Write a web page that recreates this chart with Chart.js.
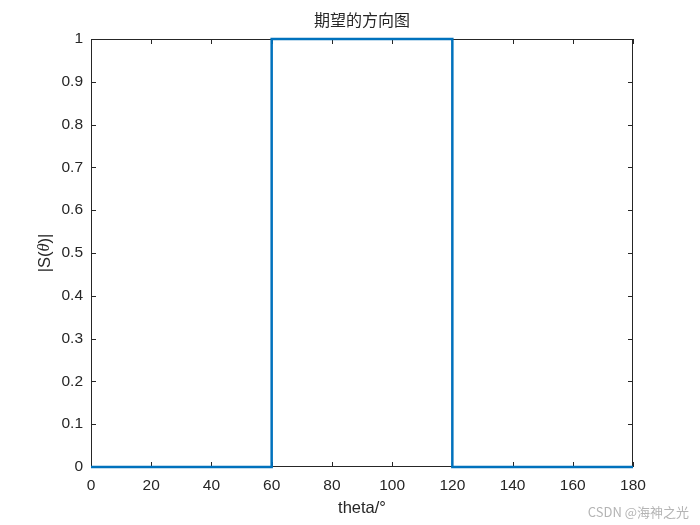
<!DOCTYPE html>
<html>
<head>
<meta charset="utf-8">
<script src="https://cdn.jsdelivr.net/npm/chart.js"></script>
<style>
  html, body { margin: 0; padding: 0; background: #fff; }
  canvas { display: block; }
</style>
</head>
<body>
<canvas id="chart" width="700" height="525"></canvas>
<script>
// 期望的方向图: a box pattern from 60° to 120°
const thetaValues = [0, 60, 60, 120, 120, 180];
const magValues = [0, 0, 1, 1, 0, 0];
const xTicks = [0, 20, 40, 60, 80, 100, 120, 140, 160, 180];
const yTicks = [0, 0.1, 0.2, 0.3, 0.4, 0.5, 0.6, 0.7, 0.8, 0.9, 1];

const tickFont = { family: 'Liberation Sans, Arial, sans-serif', size: 15.5 };
const textColor = '#262626';
const labelFont = '16.5px "Liberation Sans", Arial, sans-serif';

// box + inward ticks + labels, MATLAB-ish
const axesDecor = {
  id: 'axesDecor',
  beforeDatasetsDraw(chart) {
    const { ctx, chartArea: a, scales } = chart;
    ctx.save();
    ctx.strokeStyle = '#262626';
    ctx.lineWidth = 1;
    ctx.strokeRect(a.left + 0.5, a.top + 0.5, a.right - a.left - 1, a.bottom - a.top - 1);
    ctx.beginPath();
    xTicks.forEach(v => {
      const x = Math.round(scales.x.getPixelForValue(v)) + 0.5;
      ctx.moveTo(x, a.bottom); ctx.lineTo(x, a.bottom - 5);
      ctx.moveTo(x, a.top); ctx.lineTo(x, a.top + 5);
    });
    yTicks.forEach(v => {
      const y = Math.round(scales.y.getPixelForValue(v)) + 0.5;
      ctx.moveTo(a.left, y); ctx.lineTo(a.left + 5, y);
      ctx.moveTo(a.right, y); ctx.lineTo(a.right - 5, y);
    });
    ctx.stroke();
    ctx.restore();
  },
  afterDraw(chart) {
    const { ctx, chartArea: a } = chart;
    const cx = (a.left + a.right) / 2;
    ctx.save();
    ctx.fillStyle = textColor;
    ctx.textAlign = 'center';
    ctx.textBaseline = 'middle';

    ctx.font = '16px "Noto Sans CJK SC", sans-serif';
    ctx.fillText('期望的方向图', cx, 20);

    ctx.font = labelFont;
    ctx.fillText('theta/°', cx, 508);

    // y label with italic theta
    ctx.translate(45, (a.top + a.bottom) / 2);
    ctx.rotate(-Math.PI / 2);
    const parts = [
      ['|S(', labelFont],
      ['θ', 'italic 16.5px "Liberation Serif", "Times New Roman", serif'],
      [')|', labelFont]
    ];
    let total = 0;
    parts.forEach(p => { ctx.font = p[1]; total += ctx.measureText(p[0]).width; });
    let x = -total / 2;
    ctx.textAlign = 'left';
    parts.forEach(p => {
      ctx.font = p[1];
      ctx.fillText(p[0], x, 0);
      x += ctx.measureText(p[0]).width;
    });
    ctx.restore();

    ctx.save();
    ctx.fillStyle = '#b4b4b4';
    ctx.font = '13px "Noto Sans CJK SC", sans-serif';
    ctx.textAlign = 'right';
    ctx.textBaseline = 'middle';
    ctx.fillText('CSDN @海神之光', 689, 512);
    ctx.restore();
  }
};

new Chart(document.getElementById('chart'), {
  type: 'scatter',
  data: {
    datasets: [{
      data: thetaValues.map((t, i) => ({ x: t, y: magValues[i] })),
      showLine: true,
      borderColor: '#0072BD',
      borderWidth: 2.5,
      pointRadius: 0,
      fill: false,
      tension: 0,
      clip: false
    }]
  },
  options: {
    responsive: false,
    devicePixelRatio: 1,
    animation: false,
    layout: { padding: { left: 0, top: 39, right: 67, bottom: 0 } },
    plugins: { legend: { display: false }, tooltip: { enabled: false }, title: { display: false } },
    scales: {
      x: {
        type: 'linear', min: 0, max: 180,
        afterFit: s => { s.height = 58; },
        afterBuildTicks: s => { s.ticks = xTicks.map(v => ({ value: v })); },
        grid: { display: false, drawTicks: false },
        border: { display: false },
        ticks: { font: tickFont, color: textColor, padding: 9, maxRotation: 0, autoSkip: false }
      },
      y: {
        type: 'linear', min: 0, max: 1,
        afterFit: s => { s.width = 91; },
        afterBuildTicks: s => { s.ticks = yTicks.map(v => ({ value: v })); },
        grid: { display: false, drawTicks: false },
        border: { display: false },
        ticks: { font: tickFont, color: textColor, padding: 8, autoSkip: false,
                 callback: v => String(Math.round(v * 10) / 10) }
      }
    }
  },
  plugins: [axesDecor]
});
</script>
</body>
</html>
